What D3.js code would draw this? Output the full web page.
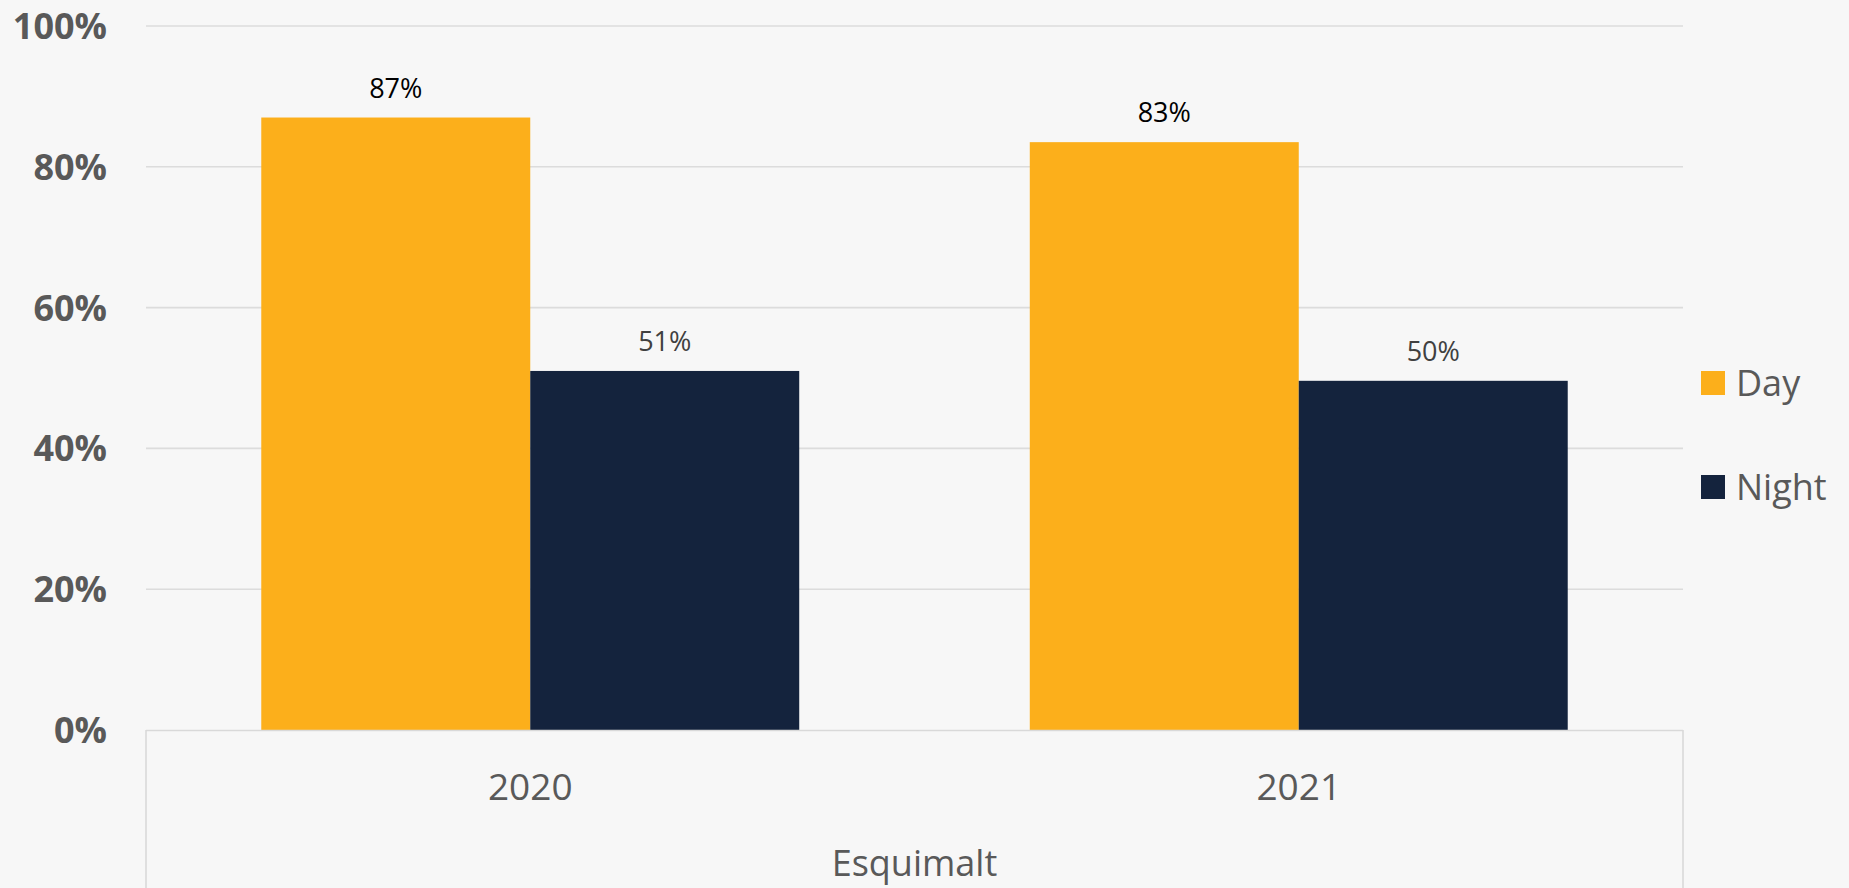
<!DOCTYPE html>
<html><head><meta charset="utf-8">
<script src="https://cdn.jsdelivr.net/npm/d3@7"></script>
<style>
html,body{margin:0;padding:0;background:#f7f7f7;}
svg{display:block;font-family:"Open Sans",sans-serif;}
</style></head>
<body>
<svg id="chart" width="1849" height="888"></svg>
<script>
const categories = ["2020", "2021"];
const groupLabel = "Esquimalt";
const seriesNames = ["Day", "Night"];
const dayValues = [0.87, 0.835];
const nightValues = [0.51, 0.496];
const dayLabels = ["87%", "83%"];
const nightLabels = ["51%", "50%"];
const yTicks = [0, 0.2, 0.4, 0.6, 0.8, 1.0];
const yTickLabels = ["0%", "20%", "40%", "60%", "80%", "100%"];
const colors = {Day: "#fcaf1b", Night: "#14233d"};

(function () {
const svg = d3.select("#chart");
const plotLeft = 146, plotRight = 1683, plotTop = 26, plotBottom = 730;

const y = d3.scaleLinear().domain([0, 1]).range([plotBottom, plotTop]);
const x = d3.scaleBand().domain(categories).range([plotLeft, plotRight]).paddingInner(0).paddingOuter(0);
const groupW = x.bandwidth() * 0.7;
const xs = d3.scaleBand().domain(seriesNames).range([0, groupW]).padding(0);

// gridlines
svg.append("g").selectAll("line").data(yTicks.filter(d => d > 0)).join("line")
  .attr("x1", plotLeft).attr("x2", plotRight)
  .attr("y1", d => y(d)).attr("y2", d => y(d))
  .attr("stroke", "#dcdcdc").attr("stroke-width", 1.6);

// y tick labels
svg.append("g").selectAll("text").data(yTicks).join("text")
  .attr("x", 107).attr("y", d => y(d)).attr("dy", "0.36em")
  .attr("text-anchor", "end")
  .attr("font-size", 36).attr("font-weight", "bold").attr("fill", "#595959")
  .text((d, i) => yTickLabels[i]);

const rows = categories.map((c, i) => ({cat: c, Day: dayValues[i], Night: nightValues[i], DayL: dayLabels[i], NightL: nightLabels[i]}));

const g = svg.append("g");
rows.forEach(r => {
  const gx = x(r.cat) + (x.bandwidth() - groupW) / 2;
  seriesNames.forEach(s => {
    g.append("rect")
      .attr("x", gx + xs(s)).attr("width", xs.bandwidth())
      .attr("y", y(r[s])).attr("height", y(0) - y(r[s]))
      .attr("fill", colors[s]);
    g.append("text")
      .attr("x", gx + xs(s) + xs.bandwidth() / 2)
      .attr("y", y(r[s]) - 20)
      .attr("text-anchor", "middle")
      .attr("font-size", 27)
      .attr("fill", s === "Day" ? "#000000" : "#404040")
      .text(r[s + "L"]);
  });
});

// axis frame
const axisColor = "#d9d9d9";
svg.append("line").attr("x1", plotLeft).attr("x2", plotRight).attr("y1", plotBottom + 0.5).attr("y2", plotBottom + 0.5)
  .attr("stroke", axisColor).attr("stroke-width", 1.6);
[plotLeft, plotRight].forEach(xx => {
  svg.append("line").attr("x1", xx).attr("x2", xx).attr("y1", plotBottom).attr("y2", 888)
    .attr("stroke", axisColor).attr("stroke-width", 1.6);
});

// category labels
svg.append("g").selectAll("text").data(categories).join("text")
  .attr("x", d => x(d) + x.bandwidth() / 2).attr("y", 800)
  .attr("text-anchor", "middle").attr("font-size", 37).attr("fill", "#595959")
  .text(d => d);

svg.append("text").attr("x", (plotLeft + plotRight) / 2).attr("y", 876)
  .attr("text-anchor", "middle").attr("font-size", 36).attr("fill", "#595959")
  .text(groupLabel);

// legend
const legend = svg.append("g");
seriesNames.forEach((s, i) => {
  const ly = 383 + i * 104;
  legend.append("rect").attr("x", 1701).attr("y", ly - 12).attr("width", 24).attr("height", 24).attr("fill", colors[s]);
  legend.append("text").attr("x", 1736).attr("y", ly).attr("dy", "0.36em")
    .attr("font-size", 36).attr("fill", "#595959").text(s);
});
})();
</script>
</body></html>
